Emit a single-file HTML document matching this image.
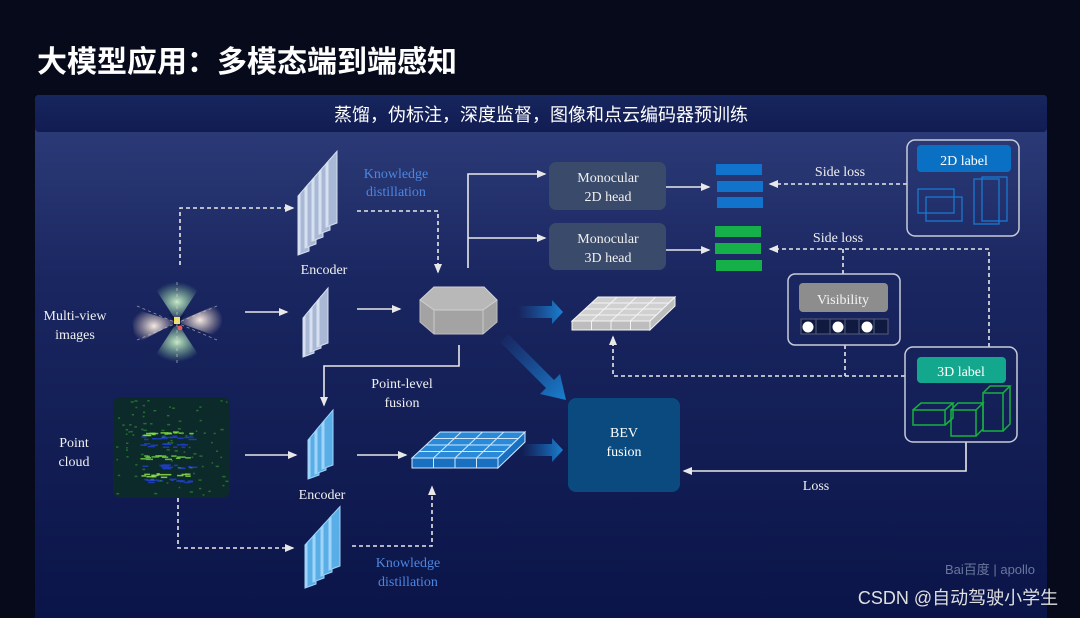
<!DOCTYPE html>
<html><head><meta charset="utf-8"><style>
html,body{margin:0;padding:0;background:#060a1a;}
svg{display:block}
.s{font-family:"Liberation Serif",serif;}
.c{font-family:"Liberation Sans","Noto Sans CJK SC",sans-serif;}
</style></head><body>
<svg id="g" width="1080" height="618" viewBox="0 0 1080 618" xmlns="http://www.w3.org/2000/svg">
<defs>
<linearGradient id="bg" x1="0" y1="0" x2="0" y2="1">
<stop offset="0" stop-color="#2f3f7c"/><stop offset="0.35" stop-color="#1a2660"/><stop offset="1" stop-color="#0a1448"/></linearGradient>
<linearGradient id="hd" x1="0" y1="0" x2="0" y2="1"><stop offset="0" stop-color="#17265e"/><stop offset="1" stop-color="#111c52"/></linearGradient>
<linearGradient id="ba" x1="0" y1="0" x2="1" y2="0"><stop offset="0" stop-color="#1a6fc0" stop-opacity="0"/><stop offset="1" stop-color="#1a80d0"/></linearGradient>
<linearGradient id="bd" x1="0" y1="0" x2="1" y2="1"><stop offset="0" stop-color="#1a6fc0" stop-opacity="0"/><stop offset="1" stop-color="#1a80d0"/></linearGradient>
<radialGradient id="star"><stop offset="0" stop-color="#ffffff" stop-opacity="0.9"/><stop offset="1" stop-color="#ffffff" stop-opacity="0"/></radialGradient>
<radialGradient id="gw"><stop offset="0" stop-color="#d8ffd0" stop-opacity="0.9"/><stop offset="1" stop-color="#90e0a0" stop-opacity="0"/></radialGradient>
<radialGradient id="pw"><stop offset="0" stop-color="#fff4e8" stop-opacity="0.95"/><stop offset="1" stop-color="#f0d0c0" stop-opacity="0"/></radialGradient>
<marker id="a" markerWidth="6" markerHeight="6" refX="5" refY="3" orient="auto"><path d="M0,0.5 L6,3 L0,5.5z" fill="#e8e8e8"/></marker>
</defs>
<rect width="1080" height="618" fill="#060a1a"/>
<text x="37" y="72" class="c" font-size="30" font-weight="bold" fill="#fff">大模型应用：多模态端到端感知</text>
<rect x="35" y="95" width="1012" height="530" rx="4" fill="url(#bg)"/>
<rect x="35" y="95" width="1012" height="37" rx="4" fill="url(#hd)"/>
<text x="541" y="121" text-anchor="middle" class="c" font-size="18" fill="#fff">蒸馏，伪标注，深度监督，图像和点云编码器预训练</text>

<!-- monocular boxes -->
<rect x="549" y="162" width="117" height="48" rx="7" fill="#3a4a6a"/>
<rect x="549" y="223" width="117" height="47" rx="7" fill="#3a4a6a"/>

<g class="s" fill="#f0f0f0" font-size="14">
<text x="75" y="320" text-anchor="middle">Multi-view</text><text x="75" y="339" text-anchor="middle">images</text>
<text x="74" y="447" text-anchor="middle">Point</text><text x="74" y="466" text-anchor="middle">cloud</text>
<text x="324" y="274" text-anchor="middle">Encoder</text>
<text x="322" y="499" text-anchor="middle">Encoder</text>
<text x="402" y="388" text-anchor="middle">Point-level</text><text x="402" y="407" text-anchor="middle">fusion</text>
<text x="608" y="182" text-anchor="middle">Monocular</text><text x="608" y="201" text-anchor="middle">2D head</text>
<text x="608" y="243" text-anchor="middle">Monocular</text><text x="608" y="262" text-anchor="middle">3D head</text>
<text x="840" y="176" text-anchor="middle">Side loss</text><text x="838" y="242" text-anchor="middle">Side loss</text>
<text x="816" y="490" text-anchor="middle">Loss</text>
</g>
<g class="s" fill="#4d86e0" font-size="14">
<text x="396" y="178" text-anchor="middle">Knowledge</text><text x="396" y="196" text-anchor="middle">distillation</text>
<text x="408" y="567" text-anchor="middle">Knowledge</text><text x="408" y="586" text-anchor="middle">distillation</text>
</g>

<!-- star icon -->
<g transform="translate(177,322)">
<path d="M0,0 L-26,-40 L26,-40z" fill="url(#gw)"/>
<path d="M0,0 L-26,40 L26,40z" fill="url(#gw)"/>
<path d="M0,0 L-46,-14 L-42,22z" fill="url(#pw)"/>
<path d="M0,0 L46,-20 L44,16z" fill="url(#pw)"/>
<path d="M-9,-9 L0,-3 L9,-9 L3,0 L9,9 L0,3 L-9,9 L-3,0z" fill="#0e1a40"/>
<rect x="-3" y="-5" width="6" height="7" fill="#f4e060"/><circle cx="3" cy="6" r="2.5" fill="#e06060"/>
<line x1="0" y1="-40" x2="0" y2="42" stroke="#ddd" stroke-dasharray="3,3" stroke-width="0.8" opacity="0.7"/>
<line x1="-40" y1="-16" x2="40" y2="18" stroke="#ddd" stroke-dasharray="3,3" stroke-width="0.8" opacity="0.6"/>
<line x1="-40" y1="18" x2="40" y2="-16" stroke="#ddd" stroke-dasharray="3,3" stroke-width="0.8" opacity="0.6"/>
</g>

<!-- point cloud -->
<rect x="113" y="397" width="117" height="101" rx="8" fill="#0c2a2a"/>
<g id="pc"></g>

<!-- lines -->
<g stroke="#e8e8e8" stroke-width="1.6" fill="none">
<line x1="245" y1="312" x2="287" y2="312" marker-end="url(#a)"/>
<line x1="357" y1="309" x2="400" y2="309" marker-end="url(#a)"/>
<line x1="245" y1="455" x2="296" y2="455" marker-end="url(#a)"/>
<line x1="357" y1="455" x2="406" y2="455" marker-end="url(#a)"/>
<polyline points="468,268 468,174 545,174" marker-end="url(#a)"/>
<line x1="468" y1="238" x2="545" y2="238" marker-end="url(#a)"/>
<line x1="666" y1="187" x2="709" y2="187" marker-end="url(#a)"/>
<line x1="666" y1="250" x2="709" y2="250" marker-end="url(#a)"/>
<polyline points="459,345 459,366 324,366 324,405" marker-end="url(#a)"/>
<polyline points="966,442 966,471 684,471" marker-end="url(#a)"/>
</g>
<g stroke="#e8e8e8" stroke-width="1.6" fill="none" stroke-dasharray="4,3">
<polyline points="180,265 180,208 293,208" marker-end="url(#a)"/>
<polyline points="357,211 438,211 438,272" marker-end="url(#a)"/>
<polyline points="178,498 178,548 293,548" marker-end="url(#a)"/>
<polyline points="352,546 432,546 432,487" marker-end="url(#a)"/>
<line x1="907" y1="184" x2="770" y2="184" marker-end="url(#a)"/>
<polyline points="989,347 989,249 770,249" marker-end="url(#a)"/>
<line x1="843" y1="249" x2="843" y2="274"/>
<line x1="845" y1="345" x2="845" y2="376"/>
<polyline points="905,376 613,376 613,337" marker-end="url(#a)"/>
</g>

<!-- big arrows -->
<path d="M518,306 L552,306 L552,300 L563,312 L552,324 L552,318 L518,318z" fill="url(#ba)"/>
<path d="M522,444 L552,444 L552,438 L563,450 L552,462 L552,456 L522,456z" fill="url(#ba)"/>
<path d="M500,342 L508,334 L554,380 L560,374 L566,400 L540,394 L546,388z" fill="url(#bd)"/>

<!-- hexagon -->
<polygon points="420,300 434,287 484,287 497,300 497,322 483,334 434,334 420,322" fill="#a3a3a3" stroke="#bdbdbd"/>
<polygon points="420,300 434,287 484,287 497,300 483,310 434,310" fill="#b8b8b8" stroke="#cfcfcf"/>
<line x1="434" y1="310" x2="434" y2="334" stroke="#c8c8c8"/><line x1="483" y1="310" x2="483" y2="334" stroke="#c8c8c8"/>

<!-- bars -->
<g fill="#1173cc"><rect x="716" y="164" width="46" height="11"/><rect x="717" y="181" width="46" height="11"/><rect x="717" y="197" width="46" height="11"/></g>
<g fill="#16b04a"><rect x="715" y="226" width="46" height="11"/><rect x="715" y="243" width="46" height="11"/><rect x="716" y="260" width="46" height="11"/></g>

<!-- 2D label -->
<rect x="907" y="140" width="112" height="96" rx="8" fill="none" stroke="#c8ccd8" stroke-width="1.5"/>
<rect x="917" y="145" width="94" height="27" rx="4" fill="#0a70c4"/>
<text x="964" y="165" text-anchor="middle" class="s" font-size="14" fill="#fff">2D label</text>
<g fill="none" stroke="#1a78d0" stroke-width="1.3"><rect x="918" y="189" width="36" height="24"/><rect x="926" y="197" width="36" height="24"/><rect x="974" y="179" width="25" height="45"/><rect x="982" y="177" width="25" height="44"/></g>

<!-- visibility -->
<rect x="788" y="274" width="112" height="71" rx="7" fill="none" stroke="#c8ccd8" stroke-width="1.5"/>
<rect x="799" y="283" width="89" height="29" rx="4" fill="#8d8d8d"/>
<text x="843" y="304" text-anchor="middle" class="s" font-size="14" fill="#f4f4f4">Visibility</text>
<g stroke="#555d78" fill="#101a40"><rect x="801" y="319" width="87" height="15"/></g>
<g fill="#fff"><circle cx="808" cy="327" r="5.5"/><circle cx="838" cy="327" r="5.5"/><circle cx="867" cy="327" r="5.5"/></g>
<g stroke="#555d78"><line x1="816" y1="319" x2="816" y2="334"/><line x1="830" y1="319" x2="830" y2="334"/><line x1="845" y1="319" x2="845" y2="334"/><line x1="859" y1="319" x2="859" y2="334"/><line x1="874" y1="319" x2="874" y2="334"/></g>

<!-- 3D label -->
<rect x="905" y="347" width="112" height="95" rx="8" fill="none" stroke="#c8ccd8" stroke-width="1.5"/>
<rect x="917" y="357" width="89" height="26" rx="4" fill="#13a88e"/>
<text x="961" y="376" text-anchor="middle" class="s" font-size="14" fill="#fff">3D label</text>
<g fill="none" stroke="#18b040" stroke-width="1.5">
<rect x="913" y="410" width="32" height="15"/><polyline points="913,410 921,403 953,403 945,410"/><polyline points="953,403 953,418 945,425"/>
<rect x="951" y="410" width="25" height="26"/><polyline points="951,410 958,403 983,403 976,410"/><polyline points="983,403 983,429 976,436"/>
<rect x="983" y="393" width="20" height="38"/><polyline points="983,393 990,386 1010,386 1003,393"/><polyline points="1010,386 1010,424 1003,431"/>
</g>

<!-- BEV fusion -->
<rect x="568" y="398" width="112" height="94" rx="8" fill="#0b4a7e"/>
<text x="624" y="437" text-anchor="middle" class="s" font-size="14" fill="#fff">BEV</text>
<text x="624" y="456" text-anchor="middle" class="s" font-size="14" fill="#fff">fusion</text>

<g id="dyn"></g>

<text x="990" y="574" text-anchor="middle" class="c" font-size="13" fill="#8090b0" opacity="0.8">Bai百度 | apollo</text>
<text x="958" y="604" text-anchor="middle" class="c" font-size="18" fill="#e0e0e0">CSDN @自动驾驶小学生</text>
</svg>
<script>
var NS="http://www.w3.org/2000/svg",d=document.getElementById("dyn");
function el(t,a,p){var e=document.createElementNS(NS,t);for(var k in a)e.setAttribute(k,a[k]);(p||d).appendChild(e);return e;}
function stack(x0,t0,yb,n,dx,w,slope,bstep,fill,edge){
 for(var i=0;i<n;i++){var x=x0+i*dx,t=t0-i*dx*slope,b=yb-i*bstep;
  el("polygon",{points:[x,b,x,t,x+w,t-w*slope,x+w,b-4].join(","),fill:fill,stroke:edge,"stroke-width":1});
  el("polygon",{points:[x,b,x+2.5,b-2,x+2.5,t-3,x,t].join(","),fill:edge});}
}
stack(298,196,255,5,7,11,1.15,7,"#a9b8d4","#d6e0f0");
stack(303,318,357,3,7,11,1.2,5,"#a9b8d4","#d6e0f0");
stack(308,440,479,3,7,11,1.2,5,"#5aaee8","#a0d4f8");
stack(305,545,588,4,8,11,1.1,6,"#5aaee8","#a0d4f8");
function grid(fl,fr,br,bl,th,fill,lc,side){
 el("polygon",{points:[fl[0],fl[1],fr[0],fr[1],fr[0],fr[1]+th,fl[0],fl[1]+th].join(","),fill:side,stroke:lc});
 el("polygon",{points:[fr[0],fr[1],br[0],br[1],br[0],br[1]+th,fr[0],fr[1]+th].join(","),fill:side,stroke:lc});
 el("polygon",{points:[fl,fr,br,bl].join(","),fill:fill,stroke:lc});
 for(var i=1;i<4;i++){var t=i/4;
  el("line",{x1:fl[0]+(bl[0]-fl[0])*t,y1:fl[1]+(bl[1]-fl[1])*t,x2:fr[0]+(br[0]-fr[0])*t,y2:fr[1]+(br[1]-fr[1])*t,stroke:lc});
  el("line",{x1:fl[0]+(fr[0]-fl[0])*t,y1:fl[1],x2:bl[0]+(br[0]-bl[0])*t,y2:bl[1],stroke:lc});
  el("line",{x1:fl[0]+(fr[0]-fl[0])*t,y1:fl[1],x2:fl[0]+(fr[0]-fl[0])*t,y2:fl[1]+th,stroke:lc});}
}
grid([572,321],[650,321],[675,297],[598,297],9,"#d0d0d0","#f4f4f4","#bdbdbd");
grid([412,458],[498,458],[525,432],[440,432],10,"#2a8ad8","#cfe8ff","#1a70c0");
var pc=document.getElementById("pc");
var s=7;function r(){s=(s*9301+49297)%233280;return s/233280;}
var bands=[[433,"#80e040"],[437,"#2040c8"],[445,"#2040c8"],[457,"#70d040"],[466,"#2040c8"],[475,"#90e050"],[480,"#2040c8"]];
for(var j=0;j<bands.length;j++){for(var k=0;k<14;k++){el("rect",{x:140+r()*50,y:bands[j][0]+r()*4-2,width:3+r()*6,height:1.5,fill:bands[j][1],opacity:0.85},pc);}}
for(var i=0;i<90;i++){el("rect",{x:116+r()*110,y:400+r()*95,width:1.5+r()*2,height:1.5,fill:"#3a9a3a",opacity:0.6},pc);}
</script>
</body></html>
